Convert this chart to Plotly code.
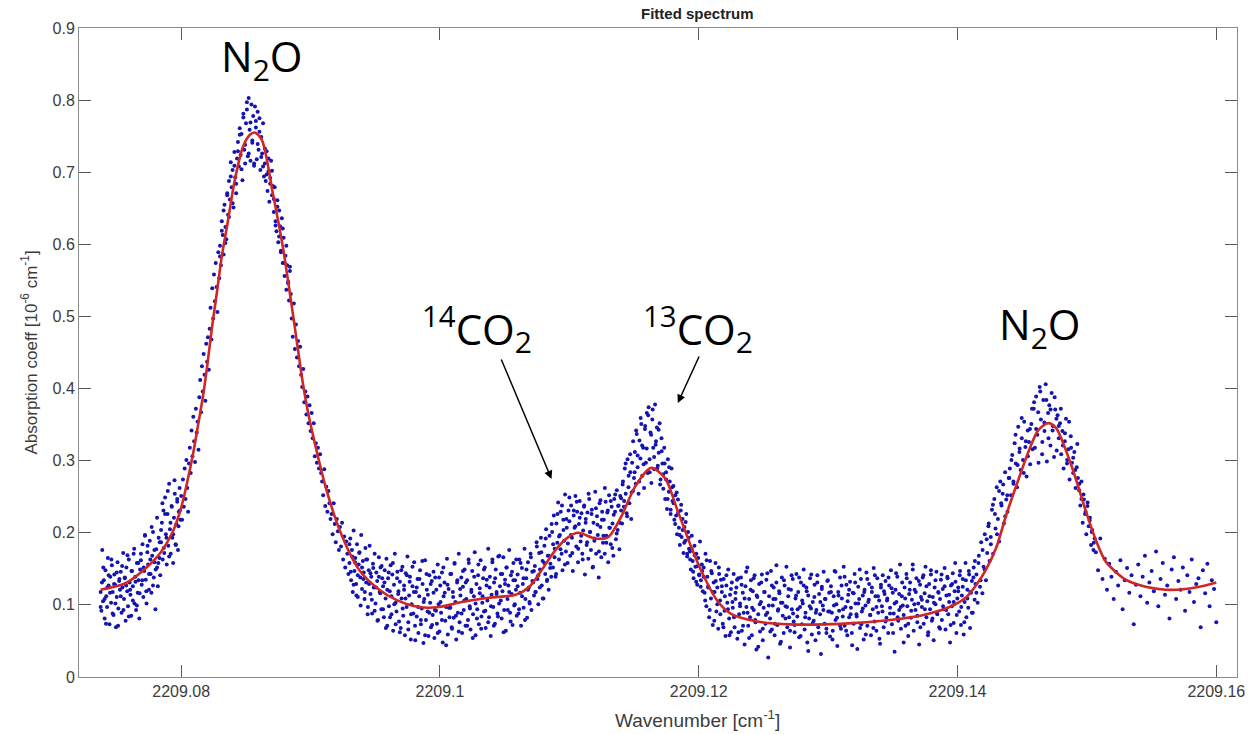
import numpy as np
import plotly.graph_objects as go

# ---- fitted curve (red line) ----
fit_wn = [2209.07377, 2209.07569, 2209.07708, 2209.07838, 2209.07931, 2209.08000, 2209.08046, 2209.08092,
          2209.08131, 2209.08169, 2209.08200, 2209.08238, 2209.08277, 2209.08315, 2209.08354, 2209.08415,
          2209.08477, 2209.08531, 2209.08569, 2209.08623, 2209.08708, 2209.08785, 2209.08862, 2209.08938,
          2209.08977, 2209.09015, 2209.09123, 2209.09246, 2209.09377, 2209.09531, 2209.09662, 2209.09838,
          2209.09992, 2209.10169, 2209.10377, 2209.10585, 2209.10685, 2209.10785, 2209.10892, 2209.10992,
          2209.11069, 2209.11200, 2209.11300, 2209.11400, 2209.11508, 2209.11631, 2209.11738, 2209.11838,
          2209.11938, 2209.12038, 2209.12146, 2209.12246, 2209.12454, 2209.12708, 2209.12969, 2209.13223,
          2209.13477, 2209.13738, 2209.13938, 2209.14069, 2209.14146, 2209.14223, 2209.14300, 2209.14377,
          2209.14477, 2209.14554, 2209.14623, 2209.14700, 2209.14762, 2209.14815, 2209.14892, 2209.14992,
          2209.15069, 2209.15146, 2209.15300, 2209.15454, 2209.15608, 2209.15762, 2209.15915, 2209.16000]
fit_abs = [.121, .130, .148, .172, .200, .235, .270, .310,
           .350, .390, .430, .485, .535, .585, .625, .690,
           .735, .752, .755, .745, .671, .597, .505, .410,
           .370, .338, .259, .194, .148, .121, .107, .097,
           .097, .104, .110, .114, .124, .148, .176, .194,
           .200, .192, .194, .222, .264, .290, .276, .230,
           .182, .140, .105, .088, .077, .073, .073, .075,
           .079, .086, .097, .111, .128, .150, .180, .225,
           .277, .315, .342, .352, .345, .325, .287, .230,
           .190, .160, .135, .125, .121, .122, .127, .131]

# ---- measured points (blue dots), sampled evenly inside each wavenumber segment ----
seg_edges = [2209.07377, 2209.08000, 2209.08300, 2209.08854, 2209.09300, 2209.10600,
             2209.11400, 2209.12038, 2209.14146, 2209.15069, 2209.16000]

dots_a = [.118,.092,.176,.105,.134,.081,.148,.112,.097,.165,.127,.073,.139,.103,.155,.118,.086,.142,.128,.069,.111,.159,.095,.133,.121,
          .146,.089,.124,.172,.108,.137,.078,.152,.119,.098,.163,.131,.114,.085,.147,.126,.171,.102,.139,.093,.158,.117,.134,.081,.149,
          .162,.128,.184,.111,.147,.196,.135,.102,.173,.156,.121,.189,.143,.117,.168,.201,.138,.159,.094,.177,.152,.126,.193,.165,.141,
          .187,.214,.163,.231,.172,.249,.198,.156,.226,.182,.268,.205,.171,.237,.193,.158,.221,.254,.184,.212,.243,.176,.229,.262,.218]
dots_b = [.251,.218,.274,.236,.289,.247,.301,.262,.229,.296,
          .318,.283,.342,.306,.361,.327,.298,.372,.339,.354,.315,
          .388,.412,.367,.431,.396,.448,.419,.383,.462,.437,.471,.426,
          .483,.512,.468,.539,.497,.558,.521,.574,.541,.506,.589,.553]
dots_c = [.598,.571,.632,.613,.586,.655,.624,.607,.668,.641,
          .688,.662,.714,.679,.703,.651,.728,.693,.671,.719,
          .742,.708,.761,.724,.753,.689,.776,.731,.712,.768,
          .787,.722,.803,.759,.716,.794,.741,.778,.709,.791,
          .762,.718,.784,.731,.775,.703,.749,.726,.768,.694,
          .712,.688,.729,.674,.701,.659,.692,.716,.668,.681,
          .645,.679,.632,.618,.661,.603,.647,.625,.591,.636,
          .574,.609,.556,.584,.537,.571,.548,.522,.563,.531]
dots_d = [.497,.472,.518,.455,.489,.443,.466,.431,.458,.419,
          .402,.427,.381,.396,.364,.389,.352,.377,.341,.366,
          .331,.352,.306,.324,.297,.318,.289,.309,.283,
          .271,.252,.288,.237,.264,.229,.258,.241,.219,
          .226,.198,.241,.212,.187,.219,.202,.176,.208,
          .181,.214,.163,.195,.152,.188,.171,.143]
dots_e = [.158,.192,.134,.176,.118,.203,.147,.165,.129,.184,.111,.156,.173,.138,.197,.122,.161,.145,.108,.179,
          .131,.163,.097,.148,.182,.115,.139,.088,.157,.124,.171,.102,.145,.133,.079,.166,.118,.152,.094,.137,
          .126,.083,.148,.109,.164,.071,.137,.098,.119,.155,.087,.142,.064,.128,.171,.103,.091,.146,.115,.077,
          .132,.068,.109,.153,.085,.121,.058,.144,.097,.167,.076,.113,.139,.052,.101,.126,.088,.159,.071,.118,
          .084,.136,.061,.112,.148,.073,.095,.129,.047,.108,.162,.079,.121,.091,.057,.141,.103,.069,.133,.086,
          .117,.054,.138,.092,.074,.156,.101,.063,.127,.089,.145,.048,.112,.131,.078,.097,.164,.059,.122,.083,
          .096,.143,.067,.118,.082,.157,.104,.052,.131,.089,.171,.076,.113,.138,.061,.125,.093,.149,.071,.108,
          .134,.079,.158,.098,.066,.121,.147,.087,.112,.173,.058,.129,.094,.141,.073,.116,.162,.084,.103,.137,
          .091,.152,.068,.127,.106,.178,.083,.139,.057,.114,.163,.097,.131,.074,.149,.118,.088,.167,.102,.126,
          .143,.081,.119,.166,.093,.135,.064,.152,.108,.127,.176,.089,.141,.115,.072,.158,.099,.134,.121,.085]
dots_f = [.142,.088,.163,.117,.071,.151,.129,.096,.178,.108,.137,.082,.159,.124,.102,.171,.093,.146,.131,.113,
          .154,.118,.187,.136,.101,.172,.149,.193,.127,.161,.109,.182,.143,.205,.133,.168,.121,.196,.157,.139,
          .201,.152,.224,.178,.139,.213,.186,.242,.163,.197,.229,.171,.148,.218,.189,.253,.174,.207,.158,.231,
          .216,.168,.238,.193,.147,.224,.207,.251,.181,.229,.159,.212,.244,.188,.227,.171,.203,.236,.142,.219,
          .183,.228,.164,.247,.201,.176,.232,.152,.214,.189,.257,.171,.223,.197,.138,.241,.208,.166,.229,.186,
          .218,.171,.243,.196,.228,.159,.252,.207,.184,.236,.213,.168,.247,.229,.191,.259,.204,.238,.177,.251]
dots_g = [.248,.213,.271,.236,.289,.254,.227,.302,.263,.241,.284,.219,.297,.258,.276,
          .312,.268,.337,.291,.254,.328,.303,.351,.279,.318,.262,.344,.297,.366,.283,
          .374,.302,.339,.269,.357,.318,.288,.378,.327,.346,.293,.311,.352,.274,.331,
          .296,.261,.318,.247,.284,.233,.302,.257,.271,.226,.289,.244,.265,.218,.252,
          .224,.198,.246,.207,.183,.231,.194,.219,.172,.208,.189,.226,.167,.201,.178,
          .174,.149,.196,.161,.137,.182,.153,.171,.128,.165,.142,.188,.134,.156,.119]
dots_h = [.152,.117,.171,.098,.139,.126,.083,.161,.109,.144,.072,.131,.118,.158,.091,.124,.067,.143,.106,.135,
          .118,.074,.136,.092,.057,.127,.103,.149,.081,.114,.062,.131,.096,.143,.069,.108,.124,.053,.137,.087,
          .102,.138,.064,.117,.089,.045,.126,.097,.152,.071,.108,.083,.134,.058,.119,.093,.141,.076,.038,.111,
          .087,.129,.063,.104,.142,.051,.096,.118,.074,.135,.089,.027,.112,.081,.147,.066,.099,.124,.058,.108,
          .131,.072,.094,.119,.046,.103,.138,.085,.061,.127,.098,.153,.069,.112,.083,.041,.121,.094,.136,.077,
          .062,.109,.143,.084,.118,.055,.097,.131,.073,.102,.149,.066,.089,.124,.048,.113,.081,.137,.095,.059,
          .104,.078,.128,.051,.093,.141,.069,.115,.087,.032,.122,.099,.146,.074,.108,.061,.133,.091,.117,.056,
          .126,.089,.064,.112,.147,.079,.101,.043,.118,.092,.138,.067,.109,.084,.153,.071,.097,.128,.058,.114,
          .083,.132,.096,.061,.117,.074,.143,.102,.087,.039,.125,.108,.068,.136,.091,.113,.052,.121,.099,.145,
          .071,.104,.129,.086,.058,.118,.094,.151,.077,.112,.064,.137,.089,.106,.046,.124,.098,.141,.069,.115,
          .133,.082,.109,.061,.127,.096,.148,.073,.117,.088,.035,.121,.104,.139,.078,.093,.156,.067,.112,.099,
          .086,.124,.071,.143,.098,.057,.115,.131,.082,.107,.149,.064,.121,.093,.137,.076,.102,.045,.128,.111,
          .097,.138,.074,.116,.153,.083,.105,.062,.129,.094,.142,.078,.111,.051,.124,.101,.146,.087,.118,.069,
          .108,.135,.079,.122,.094,.151,.066,.113,.139,.087,.104,.048,.127,.098,.144,.075,.119,.132,.061,.109,
          .124,.091,.147,.072,.113,.136,.059,.104,.158,.083,.121,.096,.142,.068,.117,.133,.089,.152,.107,.129]
dots_i = [.142,.103,.168,.125,.187,.116,.153,.198,.134,.172,.209,.161,
          .194,.232,.171,.247,.206,.263,.219,.188,.271,.238,.254,.213,.284,.246,.229,.276,
          .289,.252,.308,.271,.324,.296,.263,.347,.312,.287,.331,.301,.354,.319,.278,.342,.326,.295,.351,.316,
          .372,.318,.389,.336,.297,.402,.357,.309,.384,.341,.406,.299,.366,.377,.321,.394,.348,.305,.371,.358,
          .363,.331,.352,.309,.341,.289,.327,.358,.301,.316,.274,.334,.297,.283,.312,.262,.291,.276,
          .259,.238,.271,.214,.246,.226,.198,.237,.209,.221,.183,.204,.176,.192]
dots_j = [.173,.148,.192,.136,.164,.121,.157,.139,.108,.146,.127,.162,.094,.134,.151,.117,.141,.073,.128,.156,
          .112,.139,.168,.103,.131,.147,.119,.174,.098,.136,.158,.114,.127,.081,.149,.166,.108,.133,.121,.152,
          .092,.141,.118,.163,.104,.129,.137,.069,.148,.116,.157,.098,.134,.122,.076]

# second sweep of points in the denser parts of the spectrum (same segments)
dots_a2 = [.097,.131,.152,.108,.074,.124,.141,.117,.163,.088,.129,.102,.145,.071,.136,
           .112,.154,.093,.138,.127,.169,.084,.121,.147,.106,.178,.132,.099,.158,.116,
           .171,.134,.152,.197,.119,.182,.143,.163,.208,.127,.176,.149,.221,.158,.187,
           .204,.241,.179,.226,.193,.258,.167,.214,.236,.198,.273,.183,.247,.209,.231]
dots_b2 = []
dots_c2 = [.583,.619,.647,.602,.671,.638,.694,.657,.709,.684,
           .729,.752,.704,.781,.738,.797,.726,.769,.744,.712,
           .771,.739,.756,.721,.708,.733,.697,.719,.684,.702,
           .663,.626,.652,.611,.589,.622,.574,.598,.546,.569]
dots_d2 = []
dots_e2 = [.184,.146,.167,.128,.159,.113,.141,.172,.099,.152,.136,.118,.163,.087,.129,.144,.107,.151,.092,.124,
           .078,.139,.116,.154,.094,.131,.068,.121,.145,.083,.112,.158,.101,.073,.137,.119,.062,.148,.095,.127,
           .109,.141,.066,.132,.087,.153,.118,.051,.124,.097,.136,.079,.161,.104,.058,.143,.114,.089,.129,.072,
           .146,.093,.121,.061,.138,.104,.079,.152,.117,.044,.128,.096,.143,.069,.111,.158,.085,.134,.063,.122,
           .088,.147,.106,.131,.071,.163,.095,.118,.054,.139,.102,.081,.156,.123,.067,.112,.149,.092,.135,.076,
           .124,.098,.159,.071,.137,.115,.084,.168,.106,.143,.062,.129,.152,.093,.118,.077,.146,.134,.101,.163]
dots_f2 = [.126,.094,.158,.112,.137,.079,.149,.121,.104,.166,.133,.147,.118,.181,.141,.124,.173,.109,.158,.192,
           .135,.168,.151,.212,.184,.166,.143,.226,.195,.177,.238,.204,.156,.219,.185,.249,.197,.172,.231,.209,
           .243,.178,.221,.196,.163,.238,.214,.187,.254,.201,.226,.153,.192,.234,.211,.174,.245,.218,.196,.262,
           .186,.231,.207,.244,.179,.225,.253,.199,.237,.214]
dots_g2 = [.231,.267,.244,.296,.223,.279,.309,.256,.327,.284,.342,.307,.271,.359,.321,
           .295,.348,.317,.363,.284,.336,.371,.305,.322,.289,.343,.267,.313,.281,.296,
           .274,.247,.291,.232,.263,.241,.212,.256,.228,.197,.239,.204,.186,.215,.171,
           .193,.163,.178,.146,.169,.132,.154,.141,.125,.147]
dots_h2 = [.139,.106,.162,.124,.093,.147,.118,.078,.133,.101,.152,.087,.126,.069,.112,.141,.094,.058,.122,.104,
           .083,.117,.135,.062,.098,.128,.071,.109,.146,.089,.054,.121,.096,.137,.079,.113,.042,.101,.131,.067,
           .118,.086,.144,.099,.063,.127,.108,.074,.155,.092,.116,.049,.103,.134,.081,.097,.122,.064,.141,.088,
           .072,.113,.094,.138,.057,.106,.127,.083,.119,.036,.098,.142,.075,.111,.089,.131,.061,.104,.125,.093,
           .108,.067,.134,.091,.118,.052,.099,.146,.082,.113,.071,.127,.094,.139,.064,.105,.121,.087,.044,.116,
           .131,.084,.102,.149,.073,.095,.118,.059,.136,.107,.086,.124,.068,.141,.097,.112,.053,.128,.091,.119,
           .077,.106,.138,.088,.123,.061,.102,.144,.083,.115,.097,.131,.048,.109,.137,.074,.121,.092,.156,.101,
           .118,.085,.133,.069,.107,.141,.094,.126,.058,.112,.148,.081,.103,.134,.089,.117,.067,.142,.098,.126,
           .093,.137,.114,.072,.129,.104,.158,.086,.119,.141,.097,.125,.076,.134,.109,.147,.118,.089,.138,.161]
dots_i2 = [.117,.158,.134,.176,.149,.191,
           .213,.184,.239,.226,.198,.258,.241,.267,.223,.252,
           .276,.301,.268,.336,.294,.317,.359,.283,.327,.306,.344,.372,
           .381,.344,.367,.396,.326,.353,.384,.331,.371,.342,.388,.314,
           .348,.372,.321,.338,.296,.354,.318,.304,.287,.323,
           .268,.247,.253,.229,.242,.217,.201,.186]
dots_j2 = []

x_ticks = [2209.08, 2209.10, 2209.12, 2209.14, 2209.16]
x_tick_text = ["2209.08", "2209.1", "2209.12", "2209.14", "2209.16"]
y_ticks = [0, 0.1, 0.2, 0.3, 0.4, 0.5, 0.6, 0.7, 0.8, 0.9]
y_tick_text = ["0", "0.1", "0.2", "0.3", "0.4", "0.5", "0.6", "0.7", "0.8", "0.9"]

sweep1 = [dots_a, dots_b, dots_c, dots_d, dots_e, dots_f, dots_g, dots_h, dots_i, dots_j]
sweep2 = [dots_a2, dots_b2, dots_c2, dots_d2, dots_e2, dots_f2, dots_g2, dots_h2, dots_i2, dots_j2]
dot_x, dot_y = [], []
for sweep in (sweep1, sweep2):
    for k, seg in enumerate(sweep):
        if not seg:
            continue
        last = (k == len(sweep) - 1)
        dot_x.extend(np.linspace(seg_edges[k], seg_edges[k + 1], len(seg), endpoint=last).tolist())
        dot_y.extend(seg)

fig = go.Figure()
fig.add_trace(go.Scatter(x=dot_x, y=dot_y, mode="markers",
                         marker=dict(size=4, color="#1414b0", line=dict(width=0)),
                         showlegend=False, hoverinfo="skip"))
fig.add_trace(go.Scatter(x=fit_wn, y=fit_abs, mode="lines",
                         line=dict(color="#d02626", width=2.6, shape="spline", smoothing=0.8),
                         showlegend=False, hoverinfo="skip"))

axis_common = dict(showgrid=False, zeroline=False, showline=True, linecolor="#8a8a8a", linewidth=1,
                   mirror="ticks", ticks="inside", ticklen=12, tickcolor="#5a5a5a", tickwidth=1,
                   tickfont=dict(family="Liberation Sans, Arial, sans-serif", size=16, color="#3c3c3c"))
fig.update_xaxes(range=[2209.0721, 2209.1616], tickvals=x_ticks, ticktext=x_tick_text, **axis_common)
fig.update_yaxes(range=[0, 0.9], tickvals=y_ticks, ticktext=y_tick_text, **axis_common)

big = dict(family="Open Sans, Noto Sans, sans-serif", size=42, color="black")
sub2 = '<sub><span style="font-size:30px">2</span></sub>'
ann = [
    dict(x=2209.08623, y=0.858, text="N" + sub2 + "O", font=big),
    dict(x=2209.10285, y=0.482, text="<sup>14</sup>CO" + sub2, font=big),
    dict(x=2209.11992, y=0.482, text="<sup>13</sup>CO" + sub2, font=big),
    dict(x=2209.14631, y=0.486, text="N" + sub2 + "O", font=big),
]
annotations = []
for a in ann:
    annotations.append(dict(xref="x", yref="y", showarrow=False, xanchor="center", yanchor="middle", **a))
# arrows
annotations.append(dict(xref="x", yref="y", axref="x", ayref="y", x=2209.10862, y=0.2746,
                        ax=2209.10469, ay=0.4424, text="", showarrow=True, arrowhead=2,
                        arrowsize=1.1, arrowwidth=1.5, arrowcolor="black"))
annotations.append(dict(xref="x", yref="y", axref="x", ayref="y", x=2209.11838, y=0.380,
                        ax=2209.12008, ay=0.4466, text="", showarrow=True, arrowhead=2,
                        arrowsize=1.1, arrowwidth=1.5, arrowcolor="black"))
# title and axis labels
annotations.append(dict(xref="paper", yref="paper", x=(700 - 79) / 1163, y=1.0, yshift=15,
                        text="<b>Fitted spectrum</b>", showarrow=False, xanchor="center", yanchor="middle",
                        font=dict(family="Liberation Sans, Arial, sans-serif", size=15, color="#222222")))
annotations.append(dict(xref="paper", yref="paper", x=(700 - 79) / 1163, y=0, yshift=-42,
                        text="Wavenumber [cm<sup>-1</sup>]", showarrow=False, xanchor="center", yanchor="middle",
                        font=dict(family="Liberation Sans, Arial, sans-serif", size=19, color="#3c3c3c")))
annotations.append(dict(xref="paper", yref="paper", x=0, xshift=-50, y=0.5,
                        text="Absorption coeff [10<sup>-6</sup> cm<sup>-1</sup>]", showarrow=False, textangle=-90,
                        xanchor="center", yanchor="middle",
                        font=dict(family="Liberation Sans, Arial, sans-serif", size=17, color="#3c3c3c")))

fig.update_layout(width=1257, height=734, margin=dict(l=79, r=15, t=28, b=57),
                  paper_bgcolor="white", plot_bgcolor="white", annotations=annotations)

fig.write_html("out.html")
